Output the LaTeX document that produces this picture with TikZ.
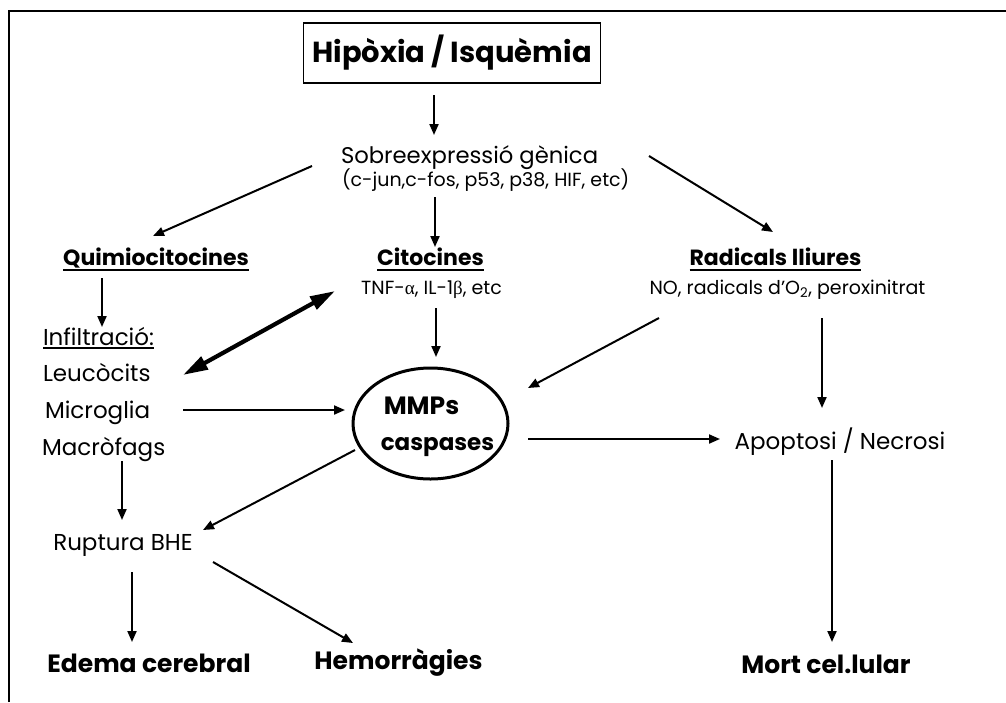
\documentclass[tikz,border=0pt]{standalone}
\usepackage{fontspec}
\setmainfont{Poppins}
\newfontfamily\grk{Liberation Serif}
\usetikzlibrary{arrows.meta,calc,shapes.geometric}
\newcommand{\fsz}[1]{\fontsize{#1}{#1}\selectfont}
\begin{document}
\begin{tikzpicture}[x=1pt,y=-1pt,
  every node/.style={inner sep=0pt,outer sep=0pt,text=black},
  titlebox/.style={draw,line width=1.8pt,minimum width=297pt,minimum height=60pt,font=\fsz{29}\bfseries},
  head/.style={font=\fsz{22}\bfseries},
  body/.style={font=\fsz{23}},
  small/.style={font=\fsz{19}},
  final/.style={font=\fsz{25}\bfseries},
  arr/.style={line width=2pt,-{Triangle[length=11pt,width=9pt]}},
  dbl/.style={line width=4.2pt,{Triangle[length=25pt,width=14pt]}-{Triangle[length=25pt,width=14pt]}},
  ulthick/.style={line width=1.8pt},
  ulthin/.style={line width=1.2pt},
  frame/.style={line width=2pt}]
\useasboundingbox (0,0) rectangle (1006,702);
\draw[frame] (9,702) -- (9,11) -- (1006,11);

\node[titlebox] (title) at (452,53) {Hipòxia / Isquèmia};
\node[font=\fsz{22.7},anchor=base west] (sobre) at (341,163) {Sobreexpressió gènica};
\node[small,anchor=base west] (sobre2) at (342,186) {(c-jun,c-fos, p53, p38, HIF, etc)};
\node[head,anchor=base] (quimio) at (156,265) {Quimiocitocines};
\node[head,anchor=base] (citoc) at (430.5,265) {Citocines};
\node[head,anchor=base] (radic) at (775.5,265) {Radicals lliures};
\node[small,anchor=base] (tnf) at (431.5,294) {TNF-{\grk α}, IL-1{\grk β}, etc};
\node[small,anchor=base] (no) at (787.5,294) {NO, radicals d’O\textsubscript{2}, peroxinitrat};
\node[body,anchor=base west] (infil) at (43,345) {Infiltració:};
\node[body,anchor=base west] (leuco) at (43,381) {Leucòcits};
\node[body,anchor=base west] (micro) at (45,418) {Microglia};
\node[body,anchor=base west] (macro) at (42,455) {Macròfags};
\node[body,anchor=base] (ruptura) at (123,550) {Ruptura BHE};
\node[body,anchor=base] (apop) at (840,449) {Apoptosi / Necrosi};
\node[final,anchor=base] (edema) at (149,672) {Edema cerebral};
\node[final,anchor=base] (hemo) at (398.5,669) {Hemorràgies};
\node[final,anchor=base] (mort) at (826,673) {Mort cel.lular};
\node[draw,ellipse,line width=3pt,minimum width=155pt,minimum height=111pt] (mmp) at (430.5,423.5) {};
\node[font=\fsz{25}\bfseries,anchor=base] (mmptxt) at (421.5,414) {MMPs};
\node[font=\fsz{23}\bfseries,anchor=base] (casp) at (437.5,450) {caspases};

% underlines
\draw[ulthick] ([yshift=-5pt]quimio.base west) -- ([yshift=-5pt]quimio.base east);
\draw[ulthick] ([yshift=-5pt]citoc.base west) -- ([yshift=-5pt]citoc.base east);
\draw[ulthick] ([yshift=-5pt]radic.base west) -- ([yshift=-5pt]radic.base east);
\draw[ulthin] ([yshift=-3pt]infil.base west) -- ([yshift=-3pt]infil.base east);

% connectors
\draw[arr] ($(title)+(-18,42)$) -- ($(sobre.base west)+(93,-28)$);
\draw[arr] ($(sobre.base west)+(-29,3)$) -- ($(quimio.base)+(-3,-29)$);
\draw[arr] ($(sobre2.base west)+(93,11)$) -- ($(citoc.base)+(4.5,-18)$);
\draw[arr] ($(sobre.base west)+(308,-7)$) -- ($(radic.base)+(-2.5,-33)$);
\draw[arr] ($(quimio.base)+(-54,13)$) -- ($(infil.base west)+(59,-18)$);
\draw[dbl] ($(leuco.base west)+(140,-6)$) -- ($(tnf.base)+(-96.5,-3)$);
\draw[arr] ($(micro.base west)+(138,-8)$) -- ($(mmp)+(-85.5,-13.5)$);
\draw[arr] ($(tnf.base)+(4.5,14)$) -- ($(mmp)+(5.5,-66.5)$);
\draw[arr] ($(no.base)+(-128.5,24)$) -- ($(mmp)+(97.5,-35.5)$);
\draw[arr] ($(no.base)+(34.5,24)$) -- ($(apop.base)+(-18,-41)$);
\draw[arr] ($(mmp)+(97.5,15.5)$) -- ($(apop.base)+(-120,-10)$);
\draw[arr] ($(macro.base west)+(80,6)$) -- ($(ruptura.base)+(-1,-30)$);
\draw[arr] ($(mmp)+(-75.5,26.5)$) -- ($(ruptura.base)+(80,-20)$);
\draw[arr] ($(ruptura.base)+(9,22)$) -- ($(edema.base)+(-17,-30)$);
\draw[arr] ($(ruptura.base)+(90,12)$) -- ($(hemo.base)+(-45.5,-26)$);
\draw[arr] ($(apop.base)+(-8,11)$) -- ($(mort.base)+(6,-31)$);
\end{tikzpicture}
\end{document}
